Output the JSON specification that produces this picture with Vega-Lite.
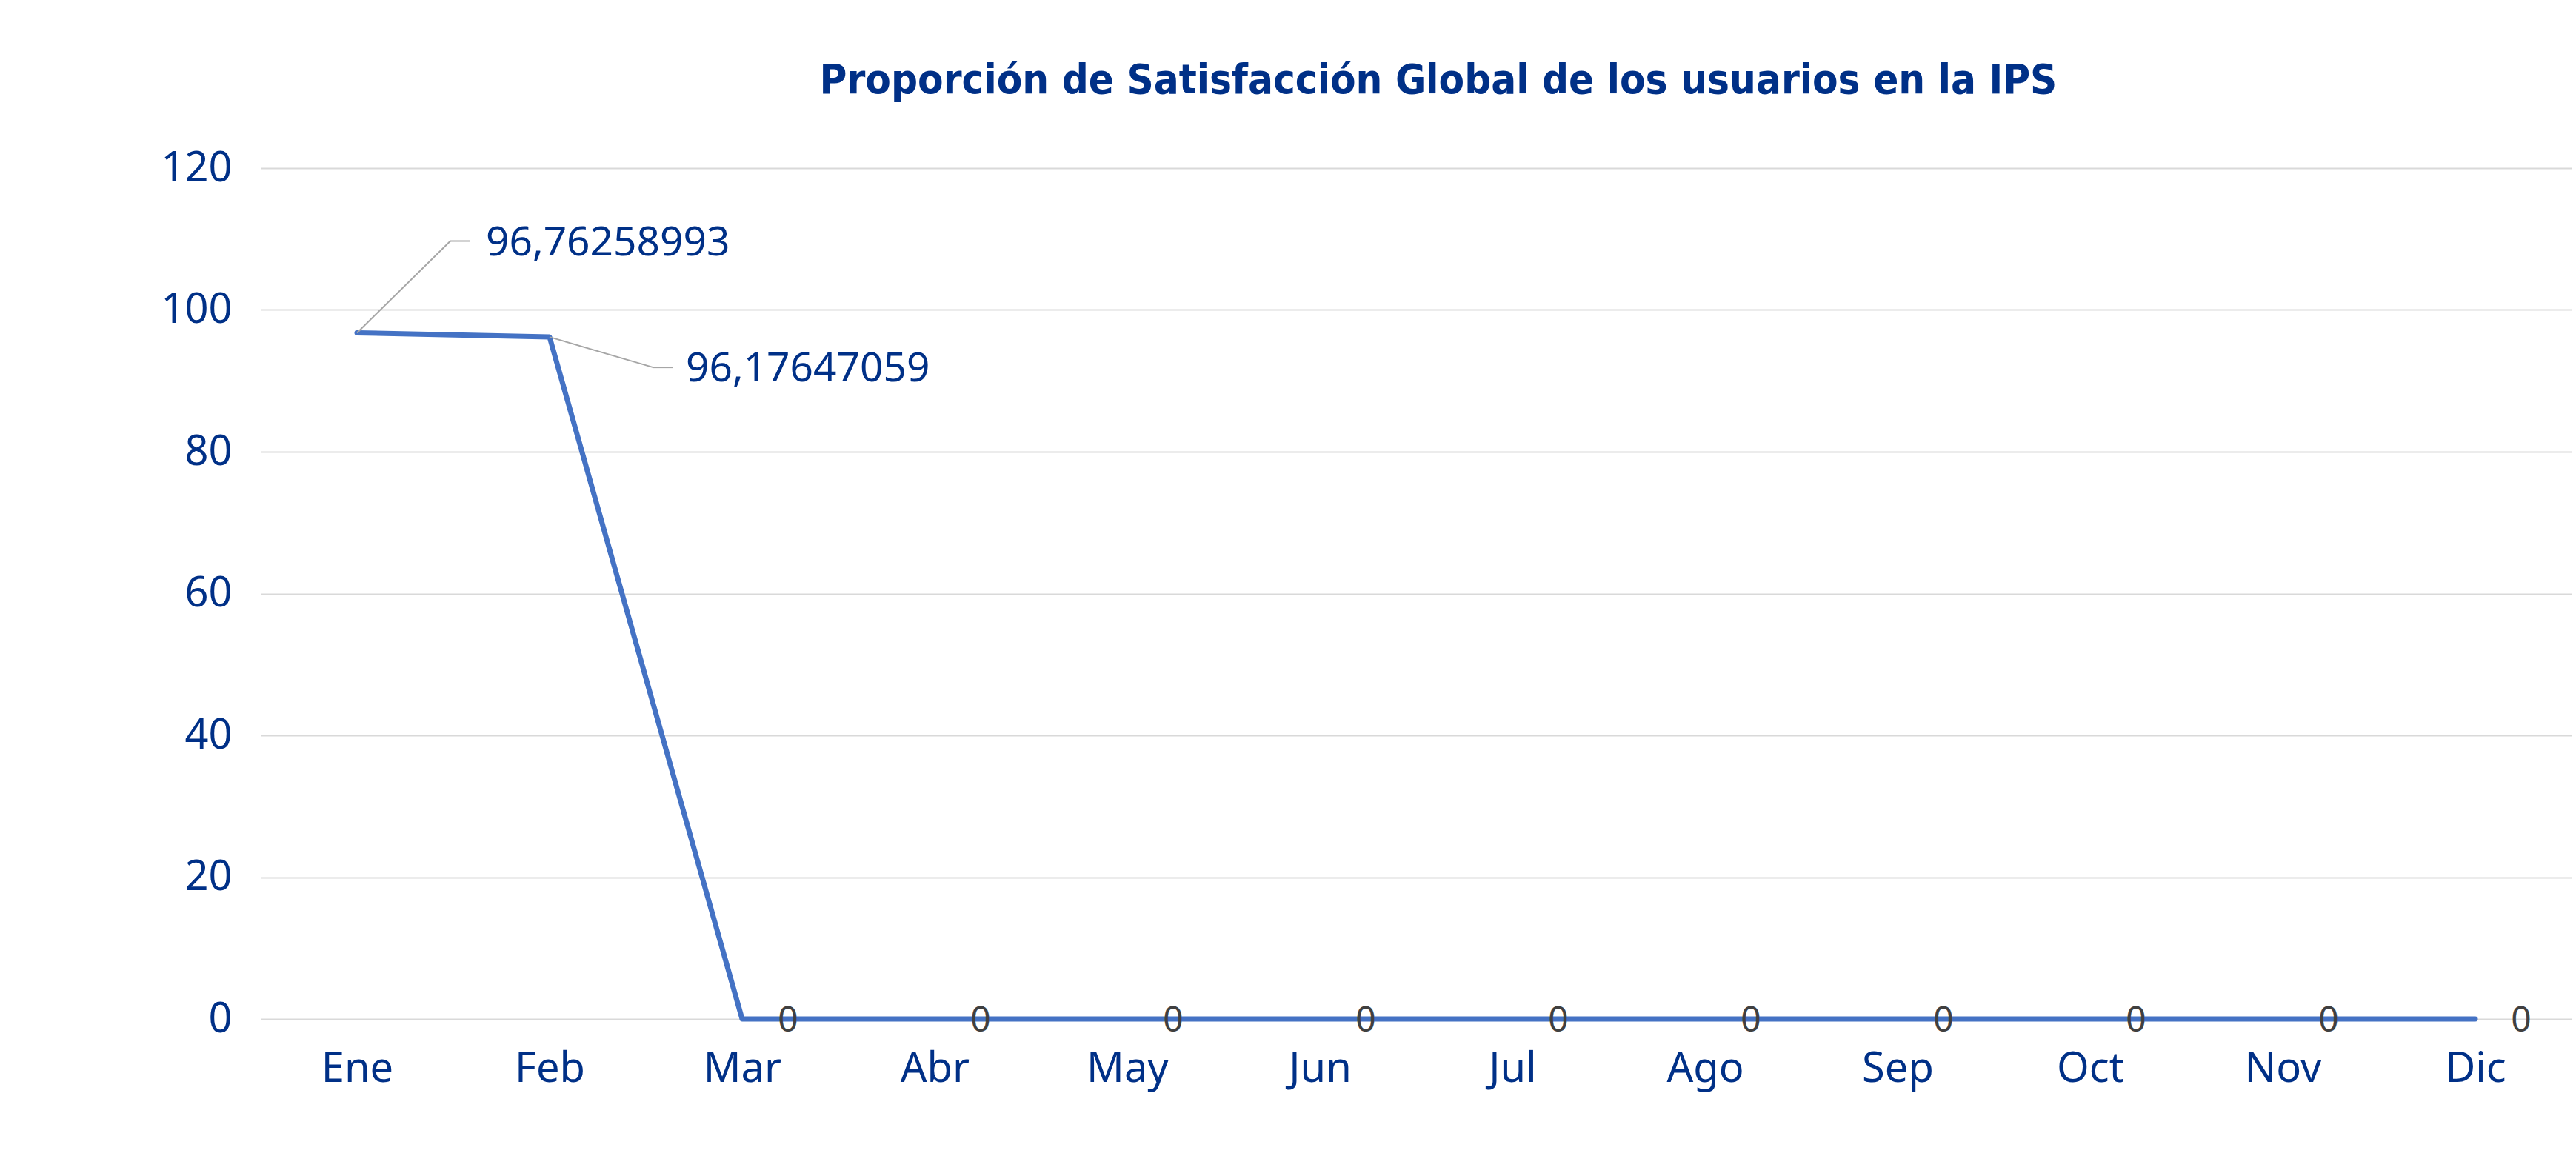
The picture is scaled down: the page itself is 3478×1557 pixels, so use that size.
{
  "$schema": "https://vega.github.io/schema/vega-lite/v6.json",
  "autosize": {"type": "none"},
  "padding": {"left": 352, "top": 227, "right": 6, "bottom": 181},
  "width": 3120,
  "height": 1149,
  "background": "white",
  "title": {
    "text": "Proporción de Satisfacción Global de los usuarios en la IPS",
    "anchor": "middle",
    "frame": "group",
    "orient": "top",
    "baseline": "alphabetic",
    "offset": 17,
    "dx": 30,
    "font": "Liberation Sans Narrow, DejaVu Sans Condensed, Noto Sans",
    "fontSize": 56,
    "fontWeight": "bold",
    "color": "#003087"
  },
  "data": {
    "values": [
      {"mes": "Ene", "valor": 96.76258993, "etiqueta": "96,76258993"},
      {"mes": "Feb", "valor": 96.17647059, "etiqueta": "96,17647059"},
      {"mes": "Mar", "valor": 0, "etiqueta": "0"},
      {"mes": "Abr", "valor": 0, "etiqueta": "0"},
      {"mes": "May", "valor": 0, "etiqueta": "0"},
      {"mes": "Jun", "valor": 0, "etiqueta": "0"},
      {"mes": "Jul", "valor": 0, "etiqueta": "0"},
      {"mes": "Ago", "valor": 0, "etiqueta": "0"},
      {"mes": "Sep", "valor": 0, "etiqueta": "0"},
      {"mes": "Oct", "valor": 0, "etiqueta": "0"},
      {"mes": "Nov", "valor": 0, "etiqueta": "0"},
      {"mes": "Dic", "valor": 0, "etiqueta": "0"}
    ]
  },
  "encoding": {
    "x": {
      "field": "mes",
      "type": "ordinal",
      "sort": ["Ene", "Feb", "Mar", "Abr", "May", "Jun", "Jul", "Ago", "Sep", "Oct", "Nov", "Dic"],
      "scale": {"type": "point", "padding": 0.5},
      "axis": {
        "title": null,
        "orient": "bottom",
        "domain": false,
        "ticks": false,
        "tickSize": 0,
        "grid": false,
        "labelAngle": 0,
        "labelPadding": 40,
        "labelFont": "Noto Sans",
        "labelFontSize": 56,
        "labelColor": "#003087"
      }
    },
    "y": {
      "field": "valor",
      "type": "quantitative",
      "scale": {"domain": [0, 120], "nice": false, "zero": true},
      "axis": {
        "title": null,
        "values": [0, 20, 40, 60, 80, 100, 120],
        "domain": false,
        "ticks": false,
        "tickSize": 0,
        "grid": true,
        "gridColor": "#D9D9D9",
        "gridWidth": 2,
        "labelPadding": 39,
        "labelFont": "Noto Sans",
        "labelFontSize": 56,
        "labelColor": "#003087"
      }
    }
  },
  "layer": [
    {
      "mark": {"type": "line", "color": "#4472C4", "strokeWidth": 7, "strokeCap": "round", "strokeJoin": "round"}
    },
    {
      "transform": [{"filter": "datum.mes === 'Ene'"}],
      "mark": {"type": "rule", "color": "#A6A6A6", "strokeWidth": 2, "x2Offset": 126, "y2Offset": -124},
      "encoding": {"x2": {"field": "mes"}, "y2": {"field": "valor"}}
    },
    {
      "transform": [{"filter": "datum.mes === 'Ene'"}],
      "mark": {"type": "rule", "color": "#A6A6A6", "strokeWidth": 2, "xOffset": 126, "x2Offset": 153, "yOffset": -124, "y2Offset": -124},
      "encoding": {"x2": {"field": "mes"}, "y2": {"field": "valor"}}
    },
    {
      "transform": [{"filter": "datum.mes === 'Feb'"}],
      "mark": {"type": "rule", "color": "#A6A6A6", "strokeWidth": 2, "x2Offset": 140, "y2Offset": 41},
      "encoding": {"x2": {"field": "mes"}, "y2": {"field": "valor"}}
    },
    {
      "transform": [{"filter": "datum.mes === 'Feb'"}],
      "mark": {"type": "rule", "color": "#A6A6A6", "strokeWidth": 2, "xOffset": 140, "x2Offset": 166, "yOffset": 41, "y2Offset": 41},
      "encoding": {"x2": {"field": "mes"}, "y2": {"field": "valor"}}
    },
    {
      "transform": [{"filter": "datum.mes === 'Ene'"}],
      "mark": {"type": "text", "align": "left", "baseline": "alphabetic", "dx": 174, "dy": -104, "font": "Noto Sans", "fontSize": 55, "color": "#003087"},
      "encoding": {"text": {"field": "etiqueta"}}
    },
    {
      "transform": [{"filter": "datum.mes === 'Feb'"}],
      "mark": {"type": "text", "align": "left", "baseline": "alphabetic", "dx": 184, "dy": 60, "font": "Noto Sans", "fontSize": 55, "color": "#003087"},
      "encoding": {"text": {"field": "etiqueta"}}
    },
    {
      "transform": [{"filter": "datum.valor === 0"}],
      "mark": {"type": "text", "align": "center", "baseline": "alphabetic", "dx": 62, "dy": 17, "font": "Noto Sans", "fontSize": 48, "color": "#404040"},
      "encoding": {"text": {"field": "etiqueta"}}
    }
  ],
  "config": {
    "view": {"stroke": null}
  }
}
